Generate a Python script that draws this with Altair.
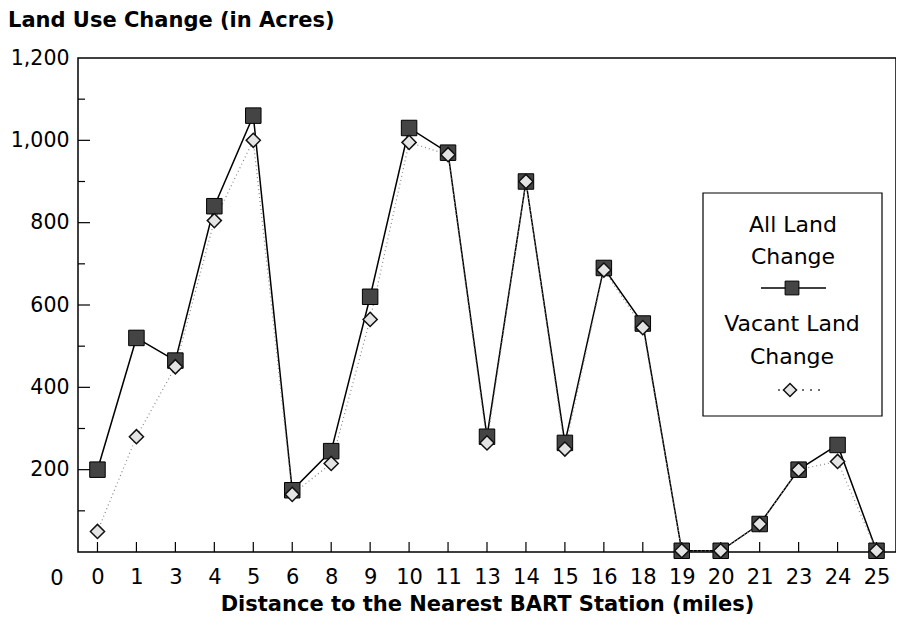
import altair as alt
import pandas as pd

# ---- data ----
distances = ["0", "1", "3", "4", "5", "6", "8", "9", "10", "11", "13", "14",
             "15", "16", "18", "19", "20", "21", "23", "24", "25"]
all_land = [200, 520, 465, 840, 1060, 150, 245, 620, 1030, 970, 280, 900,
            265, 690, 555, 3, 3, 68, 200, 260, 3]
vacant_land = [50, 280, 450, 805, 1000, 140, 215, 565, 995, 965, 265, 900,
               250, 685, 545, 3, 3, 68, 200, 220, 3]
y_labels = [200, 400, 600, 800, 1000, 1200]
y_major = [200, 400, 600, 800, 1000]
y_minor = [100, 300, 500, 700, 900, 1100]

FONT = "DejaVu Sans"
W, H = 818, 494

df = pd.DataFrame({"dist": distances, "all": all_land, "vacant": vacant_land})
one = pd.DataFrame({"k": [0]})

xscale = alt.Scale(type="point", domain=distances, padding=0.5)
yscale = alt.Scale(domain=[0, 1200], nice=False, zero=True)

x_axis = alt.Axis(labelAngle=0, ticks=False, domain=False, grid=False,
                  labelPadding=14, labelFontSize=21, labelFont=FONT, labelColor="black",
                  title="Distance to the Nearest BART Station (miles)",
                  titleFont=FONT, titleFontSize=21, titleFontWeight="bold",
                  titleColor="black", titlePadding=6)
y_axis = alt.Axis(values=y_labels, format=",d", ticks=False, domain=False, grid=False,
                  labelPadding=9, labelFontSize=20.5, labelFont=FONT, labelColor="black",
                  title=None)


def X(field="dist:O"):
    return alt.X(field, scale=xscale, sort=distances, axis=x_axis)


def Y(field):
    return alt.Y(field, scale=yscale, axis=y_axis)


base = alt.Chart(df)

all_line = base.mark_line(color="black", strokeWidth=1.5).encode(x=X(), y=Y("all:Q"))
vac_line = base.mark_line(color="#888", strokeWidth=1.2, strokeDash=[1, 3]).encode(
    x=X(), y=Y("vacant:Q"))
all_pts = base.mark_point(shape="square", filled=True, size=240, fill="#444444",
                          stroke="black", strokeWidth=1, opacity=1).encode(x=X(), y=Y("all:Q"))
vac_pts = base.mark_point(shape="diamond", filled=True, size=200, fill="#e4e4e4",
                          stroke="#111", strokeWidth=1.5, opacity=1).encode(x=X(), y=Y("vacant:Q"))

# inward ticks
x_ticks = base.mark_rule(color="black", strokeWidth=1.2).encode(
    x=X(), y=alt.value(H), y2=alt.value(H - 10))
ymaj = alt.Chart(pd.DataFrame({"v": y_major})).mark_rule(color="black", strokeWidth=1.2).encode(
    y=Y("v:Q"), x=alt.value(0), x2=alt.value(12))
ymin = alt.Chart(pd.DataFrame({"v": y_minor})).mark_rule(color="black", strokeWidth=1.2).encode(
    y=Y("v:Q"), x=alt.value(0), x2=alt.value(7))


def txt(t, x, y, size=21, weight="normal", align="center"):
    return alt.Chart(one).mark_text(text=t, font=FONT, fontSize=size, fontWeight=weight,
                                    align=align, baseline="middle", color="black").encode(
        x=alt.value(x), y=alt.value(y))


title = txt("Land Use Change (in Acres)", -70, -37, size=21, weight="bold", align="left")
zero_lbl = txt("0", -21, 521)

# legend
LX = W - 193
leg_box = alt.Chart(one).mark_rect(fill="white", stroke="black", strokeWidth=1.2).encode(
    x=alt.value(LX), x2=alt.value(LX + 179), y=alt.value(135), y2=alt.value(358))
leg_t1 = txt("All Land", LX + 90, 167, size=22)
leg_t2 = txt("Change", LX + 90, 199, size=22)
leg_t3 = txt("Vacant Land", LX + 89, 266, size=22)
leg_t4 = txt("Change", LX + 89, 299, size=22)
leg_line = alt.Chart(one).mark_rule(color="black", strokeWidth=1.5).encode(
    x=alt.value(LX + 58), x2=alt.value(LX + 123), y=alt.value(230))
leg_sq = alt.Chart(one).mark_point(shape="square", filled=True, size=190, fill="#444444",
                                   stroke="black", strokeWidth=1, opacity=1).encode(
    x=alt.value(LX + 89), y=alt.value(230))
leg_dline = alt.Chart(one).mark_rule(color="#444", strokeWidth=1.5, strokeDash=[2, 6]).encode(
    x=alt.value(LX + 75), x2=alt.value(LX + 121), y=alt.value(332))
leg_dm = alt.Chart(one).mark_point(shape="diamond", filled=True, size=170, fill="#e4e4e4",
                                   stroke="#111", strokeWidth=1.5, opacity=1).encode(
    x=alt.value(LX + 87), y=alt.value(332))

chart = alt.layer(
    all_line, vac_line, x_ticks, ymaj, ymin, all_pts, vac_pts,
    title, zero_lbl,
    leg_box, leg_t1, leg_t2, leg_line, leg_sq, leg_t3, leg_t4, leg_dline, leg_dm,
).properties(
    width=W, height=H,
    autosize=alt.AutoSizeParams(type="none"),
    padding={"left": 70, "top": 50, "right": 0, "bottom": 66},
    background="white",
).configure_view(stroke="black", strokeWidth=1.5)

chart.save("out.html", embed_options={"renderer": "svg", "actions": False})
